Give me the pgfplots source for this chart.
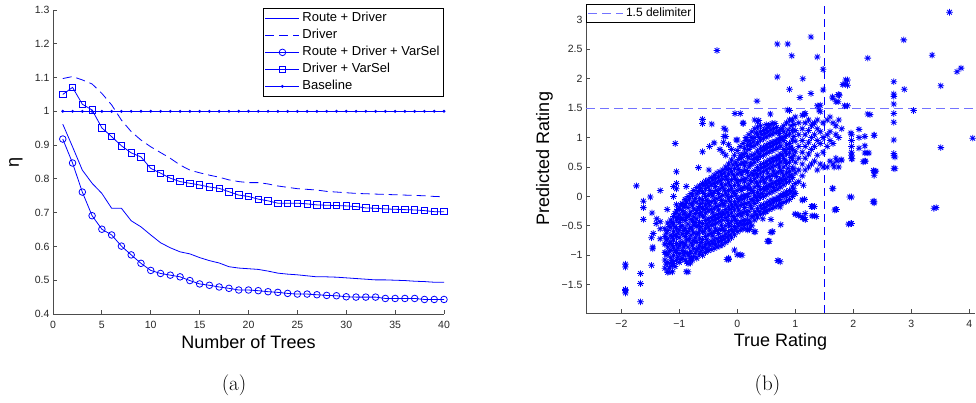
\documentclass[border=0pt]{standalone}
\usepackage{fontspec}
\usepackage{pgfplots}
\pgfplotsset{compat=1.18}
\newfontfamily\arial{Liberation Sans}
\pgfdeclareplotmark{ast8}{%
  \pgfpathmoveto{\pgfqpoint{-\pgfplotmarksize}{0pt}}%
  \pgfpathlineto{\pgfqpoint{\pgfplotmarksize}{0pt}}%
  \pgfpathmoveto{\pgfqpoint{0pt}{-\pgfplotmarksize}}%
  \pgfpathlineto{\pgfqpoint{0pt}{\pgfplotmarksize}}%
  \pgfpathmoveto{\pgfqpoint{-.7071\pgfplotmarksize}{-.7071\pgfplotmarksize}}%
  \pgfpathlineto{\pgfqpoint{.7071\pgfplotmarksize}{.7071\pgfplotmarksize}}%
  \pgfpathmoveto{\pgfqpoint{-.7071\pgfplotmarksize}{.7071\pgfplotmarksize}}%
  \pgfpathlineto{\pgfqpoint{.7071\pgfplotmarksize}{-.7071\pgfplotmarksize}}%
  \pgfusepathqstroke}
\pgfplotsset{
  mystyle/.style={
    scale only axis,
    axis x line=bottom, axis y line=left,
    axis line style={-, draw=black!70, line width=0.9pt},
    tick align=inside, major tick length=4pt,
    tick style={draw=black!70, line width=0.8pt},
    tick label style={font=\arial\fontsize{10.5}{12}\selectfont, text=black!85},
    xticklabel style={yshift=-4pt},
    clip=false,
  },
  myline/.style={blue, line width=0.8pt},
  scat/.style={only marks, mark=ast8, mark size=3.3pt, mark options={blue, line width=0.8pt}, forget plot},
}
\begin{document}
\begin{tikzpicture}[x=1pt,y=1pt]
\useasboundingbox (0,0) rectangle (976,403);
\begin{axis}[mystyle,
  at={(53pt,89pt)}, anchor=south west,
  width=391pt, height=304pt,
  xmin=0, xmax=40, ymin=0.4, ymax=1.3,
  xtick={0,5,10,15,20,25,30,35,40},
  xticklabels={0,5,10,15,20,25,30,35,40},
  ytick={0.4,0.5,0.6,0.7,0.8,0.9,1,1.1,1.2,1.3},
  yticklabels={0.4,0.5,0.6,0.7,0.8,0.9,1,1.1,1.2,1.3},
  xlabel={Number of Trees}, ylabel={η},
  every axis x label/.style={at={(axis description cs:0.5,-0.112)}, anchor=base, font=\arial\fontsize{18}{20}\selectfont},
  every axis y label/.style={at={(axis description cs:-0.095,0.5)}, anchor=center, rotate=90, font=\arial\fontsize{18}{20}\selectfont},
  legend style={at={(axis description cs:1,1.007)}, anchor=north east, draw=black, line width=1pt, fill=white,
    font=\arial\fontsize{13}{15}\selectfont, inner sep=1.5pt, row sep=0pt,
    nodes={inner sep=2.5pt, text height=9.5pt, text depth=2.5pt}},
  legend cell align=left,
  legend image code/.code={\draw[mark repeat=2,mark phase=2,#1] plot coordinates {(0pt,0pt) (17pt,0pt) (34pt,0pt)};},
]
\addplot[myline] coordinates {
(1,0.962)(2,0.895)(3,0.826)(4,0.787)(5,0.757)(6,0.713)(7,0.713)(8,0.676)(9,0.658)(10,0.634)
(11,0.611)(12,0.596)(13,0.584)(14,0.578)(15,0.567)(16,0.558)(17,0.551)(18,0.540)(19,0.536)(20,0.534)
(21,0.532)(22,0.527)(23,0.521)(24,0.518)(25,0.516)(26,0.513)(27,0.510)(28,0.510)(29,0.509)(30,0.507)
(31,0.505)(32,0.503)(33,0.501)(34,0.501)(35,0.500)(36,0.499)(37,0.497)(38,0.496)(39,0.494)(40,0.494)};
\addlegendentry{Route + Driver}
\addplot[myline, dash pattern=on 9pt off 5pt] coordinates {
(1,1.097)(2,1.103)(3,1.093)(4,1.081)(5,1.053)(6,1.019)(7,0.974)(8,0.940)(9,0.915)(10,0.895)
(11,0.878)(12,0.861)(13,0.841)(14,0.826)(15,0.818)(16,0.811)(17,0.805)(18,0.797)(19,0.792)(20,0.789)
(21,0.789)(22,0.785)(23,0.779)(24,0.775)(25,0.771)(26,0.769)(27,0.767)(28,0.763)(29,0.761)(30,0.759)
(31,0.757)(32,0.756)(33,0.755)(34,0.754)(35,0.753)(36,0.752)(37,0.751)(38,0.750)(39,0.748)(40,0.747)};
\addlegendentry{Driver}
\addplot[myline, mark=o, mark size=3.3pt, mark options={solid}] coordinates {
(1,0.918)(2,0.847)(3,0.761)(4,0.691)(5,0.651)(6,0.634)(7,0.601)(8,0.575)(9,0.550)(10,0.529)
(11,0.520)(12,0.515)(13,0.510)(14,0.499)(15,0.489)(16,0.485)(17,0.480)(18,0.476)(19,0.471)(20,0.471)
(21,0.469)(22,0.466)(23,0.464)(24,0.461)(25,0.459)(26,0.459)(27,0.457)(28,0.455)(29,0.454)(30,0.451)
(31,0.450)(32,0.450)(33,0.450)(34,0.446)(35,0.446)(36,0.446)(37,0.446)(38,0.443)(39,0.443)(40,0.443)};
\addlegendentry{Route + Driver + VarSel}
\addplot[myline, mark=square, mark size=3.2pt, mark options={solid}] coordinates {
(1,1.050)(2,1.071)(3,1.021)(4,1.004)(5,0.951)(6,0.925)(7,0.898)(8,0.877)(9,0.865)(10,0.831)
(11,0.817)(12,0.802)(13,0.792)(14,0.787)(15,0.782)(16,0.776)(17,0.772)(18,0.762)(19,0.752)(20,0.748)
(21,0.740)(22,0.735)(23,0.728)(24,0.728)(25,0.728)(26,0.726)(27,0.723)(28,0.722)(29,0.721)(30,0.720)
(31,0.718)(32,0.714)(33,0.713)(34,0.711)(35,0.710)(36,0.709)(37,0.708)(38,0.706)(39,0.703)(40,0.703)};
\addlegendentry{Driver + VarSel}
\addplot[myline, line width=1pt, mark=*, mark size=0.9pt] coordinates {
(1,1)(2,1)(3,1)(4,1)(5,1)(6,1)(7,1)(8,1)(9,1)(10,1)(11,1)(12,1)(13,1)(14,1)(15,1)(16,1)(17,1)(18,1)(19,1)(20,1)
(21,1)(22,1)(23,1)(24,1)(25,1)(26,1)(27,1)(28,1)(29,1)(30,1)(31,1)(32,1)(33,1)(34,1)(35,1)(36,1)(37,1)(38,1)(39,1)(40,1)};
\addlegendentry{Baseline}
\end{axis}

\begin{axis}[mystyle,
  at={(586pt,90pt)}, anchor=south west,
  width=389pt, height=309pt,
  xmin=-2.61, xmax=4.1, ymin=-1.98, ymax=3.27,
  xtick={-2,-1,0,1,2,3,4},
  xticklabels={−2,−1,0,1,2,3,4},
  ytick={-1.5,-1,-0.5,0,0.5,1,1.5,2,2.5,3},
  yticklabels={−1.5,−1,−0.5,0,0.5,1,1.5,2,2.5,3},
  xlabel={True Rating}, ylabel={Predicted Rating},
  every axis x label/.style={at={(axis description cs:0.5,-0.109)}, anchor=base, font=\arial\fontsize{18}{20}\selectfont},
  every axis y label/.style={at={(axis description cs:-0.095,0.5)}, anchor=base, rotate=90, font=\arial\fontsize{18}{20}\selectfont},
  legend style={at={(axis description cs:0,1)}, anchor=north west, draw=black, line width=1pt, fill=white,
    font=\arial\fontsize{12}{14}\selectfont, inner sep=1pt,
    nodes={inner sep=2.5pt, text height=9pt, text depth=2.5pt}},
  legend cell align=left,
  legend image code/.code={\draw[#1] plot coordinates {(0pt,0pt) (35pt,0pt)};},
]
\addplot[blue!55, line width=1pt, dash pattern=on 9pt off 5pt] coordinates {(-2.61,1.5)(4.1,1.5)};
\addlegendentry{1.5 delimiter}
\addplot[blue, line width=0.9pt, dash pattern=on 8pt off 5pt, forget plot] coordinates {(1.5,-1.98)(1.5,3.27)};
\addplot[scat] coordinates {
(-1.25,-1.22)(-1.25,-1.08)(-1.25,-0.95)(-1.25,-0.81)(-1.25,-0.68)(-1.25,-0.55)
(-1.20,-1.29)(-1.20,-1.12)(-1.20,-0.99)(-1.20,-0.86)(-1.20,-0.72)(-1.20,-0.58)(-1.20,-0.45)
(-1.15,-1.18)(-1.15,-1.04)(-1.15,-0.91)(-1.15,-0.77)(-1.15,-0.66)(-1.15,-0.52)(-1.15,-0.40)
(-1.10,-1.14)(-1.10,-1.00)(-1.10,-0.87)(-1.10,-0.74)(-1.10,-0.60)(-1.10,-0.47)(-1.10,-0.34)(-1.10,0.17)(-1.10,0.00)
(-1.05,-1.08)(-1.05,-0.95)(-1.05,-0.80)(-1.05,-0.68)(-1.05,-0.55)(-1.05,-0.40)(-1.05,-0.25)(-1.05,0.42)(-1.05,0.22)(-1.05,0.13)(-1.05,-0.14)
(-1.00,-1.12)(-1.00,-0.97)(-1.00,-0.84)(-1.00,-0.70)(-1.00,-0.57)(-1.00,-0.44)(-1.00,-0.31)(-1.00,-0.20)
(-0.95,-1.05)(-0.95,-0.92)(-0.95,-0.78)(-0.95,-0.64)(-0.95,-0.50)(-0.95,-0.37)(-0.95,-0.24)(-0.95,-0.12)
(-0.90,-1.08)(-0.90,-0.95)(-0.90,-0.81)(-0.90,-0.68)(-0.90,-0.54)(-0.90,-0.41)(-0.90,-0.28)(-0.90,-0.15)(-0.90,-0.05)
(-0.85,-1.14)(-0.85,-1.00)(-0.85,-0.86)(-0.85,-0.73)(-0.85,-0.60)(-0.85,-0.47)(-0.85,-0.33)(-0.85,-0.19)(-0.85,0.00)(-0.85,-1.28)
(-0.80,-1.06)(-0.80,-0.93)(-0.80,-0.79)(-0.80,-0.66)(-0.80,-0.52)(-0.80,-0.39)(-0.80,-0.26)(-0.80,-0.12)(-0.80,0.05)
(-0.75,-1.02)(-0.75,-0.89)(-0.75,-0.75)(-0.75,-0.62)(-0.75,-0.48)(-0.75,-0.35)(-0.75,-0.21)(-0.75,-0.08)(-0.75,0.10)
(-0.70,-1.05)(-0.70,-0.91)(-0.70,-0.78)(-0.70,-0.64)(-0.70,-0.51)(-0.70,-0.38)(-0.70,-0.24)(-0.70,-0.10)(-0.70,0.04)(-0.70,0.15)
(-0.65,-0.98)(-0.65,-0.84)(-0.65,-0.71)(-0.65,-0.57)(-0.65,-0.44)(-0.65,-0.31)(-0.65,-0.17)(-0.65,-0.04)(-0.65,0.10)(-0.65,0.18)
(-0.60,-1.00)(-0.60,-0.87)(-0.60,-0.73)(-0.60,-0.60)(-0.60,-0.46)(-0.60,-0.33)(-0.60,-0.20)(-0.60,-0.06)(-0.60,0.08)(-0.60,0.22)
(-0.55,-0.95)(-0.55,-0.81)(-0.55,-0.68)(-0.55,-0.54)(-0.55,-0.41)(-0.55,-0.28)(-0.55,-0.14)(-0.55,0.00)(-0.55,0.13)(-0.55,0.26)
(-0.50,-0.92)(-0.50,-0.79)(-0.50,-0.65)(-0.50,-0.52)(-0.50,-0.38)(-0.50,-0.25)(-0.50,-0.11)(-0.50,0.02)(-0.50,0.16)(-0.50,0.28)
(-0.45,-0.90)(-0.45,-0.76)(-0.45,-0.63)(-0.45,-0.49)(-0.45,-0.36)(-0.45,-0.22)(-0.45,-0.09)(-0.45,0.05)(-0.45,0.19)(-0.45,0.32)
(-0.40,-0.88)(-0.40,-0.74)(-0.40,-0.60)(-0.40,-0.47)(-0.40,-0.33)(-0.40,-0.20)(-0.40,-0.06)(-0.40,0.08)(-0.40,0.22)(-0.40,0.36)
(-0.35,-0.86)(-0.35,-0.72)(-0.35,-0.58)(-0.35,-0.45)(-0.35,-0.31)(-0.35,-0.17)(-0.35,-0.04)(-0.35,0.10)(-0.35,0.24)(-0.35,0.40)
(-0.30,-0.84)(-0.30,-0.70)(-0.30,-0.56)(-0.30,-0.42)(-0.30,-0.29)(-0.30,-0.15)(-0.30,-0.01)(-0.30,0.13)(-0.30,0.27)(-0.30,0.42)
(-0.25,-0.82)(-0.25,-0.68)(-0.25,-0.54)(-0.25,-0.40)(-0.25,-0.26)(-0.25,-0.12)(-0.25,0.02)(-0.25,0.16)(-0.25,0.30)(-0.25,0.45)(-0.25,0.75)
(-0.20,-0.78)(-0.20,-0.64)(-0.20,-0.50)(-0.20,-0.36)(-0.20,-0.22)(-0.20,-0.08)(-0.20,0.06)(-0.20,0.20)(-0.20,0.34)(-0.20,0.50)(-0.20,0.70)(-0.20,1.02)
(-0.15,-0.74)(-0.15,-0.60)(-0.15,-0.46)(-0.15,-0.32)(-0.15,-0.18)(-0.15,-0.04)(-0.15,0.10)(-0.15,0.24)(-0.15,0.38)(-0.15,0.55)(-0.15,0.88)(-0.15,-1.05)
(-0.10,-0.70)(-0.10,-0.56)(-0.10,-0.42)(-0.10,-0.28)(-0.10,-0.14)(-0.10,0.00)(-0.10,0.14)(-0.10,0.28)(-0.10,0.42)(-0.10,0.62)(-0.10,0.80)
(-0.05,-0.65)(-0.05,-0.51)(-0.05,-0.37)(-0.05,-0.23)(-0.05,-0.09)(-0.05,0.05)(-0.05,0.19)(-0.05,0.33)(-0.05,0.47)(-0.05,0.70)(-0.05,-0.91)
(0.00,-0.60)(0.00,-0.46)(0.00,-0.32)(0.00,-0.18)(0.00,-0.04)(0.00,0.10)(0.00,0.24)(0.00,0.38)(0.00,0.52)(0.00,0.78)(0.00,0.96)(0.00,-0.99)
(0.05,-0.57)(0.05,-0.43)(0.05,-0.29)(0.05,-0.15)(0.05,-0.01)(0.05,0.13)(0.05,0.27)(0.05,0.41)(0.05,0.55)(0.05,0.70)(0.05,0.85)(0.05,1.41)
(0.10,-0.55)(0.10,-0.41)(0.10,-0.27)(0.10,-0.13)(0.10,0.01)(0.10,0.15)(0.10,0.29)(0.10,0.43)(0.10,0.57)(0.10,0.72)(0.10,0.90)(0.10,1.24)
(0.15,-0.55)(0.15,-0.40)(0.15,-0.26)(0.15,-0.12)(0.15,0.02)(0.15,0.16)(0.15,0.30)(0.15,0.44)(0.15,0.58)(0.15,0.74)(0.15,0.95)
(0.20,-0.55)(0.20,-0.40)(0.20,-0.25)(0.20,-0.10)(0.20,0.05)(0.20,0.20)(0.20,0.35)(0.20,0.50)(0.20,0.65)(0.20,0.80)(0.20,0.95)(0.20,1.05)
(0.25,-0.50)(0.25,-0.35)(0.25,-0.20)(0.25,-0.05)(0.25,0.10)(0.25,0.25)(0.25,0.40)(0.25,0.55)(0.25,0.70)(0.25,0.85)(0.25,1.00)(0.25,1.10)
(0.30,-0.40)(0.30,-0.26)(0.30,-0.12)(0.30,0.02)(0.30,0.16)(0.30,0.30)(0.30,0.44)(0.30,0.58)(0.30,0.72)(0.30,0.86)(0.30,1.00)(0.30,1.15)(0.30,1.30)
(0.35,-0.35)(0.35,-0.21)(0.35,-0.07)(0.35,0.07)(0.35,0.21)(0.35,0.35)(0.35,0.49)(0.35,0.63)(0.35,0.77)(0.35,0.91)(0.35,1.05)(0.35,1.18)(0.35,1.27)
(0.40,-0.30)(0.40,-0.16)(0.40,-0.02)(0.40,0.12)(0.40,0.26)(0.40,0.40)(0.40,0.54)(0.40,0.68)(0.40,0.82)(0.40,0.96)(0.40,1.10)(0.40,1.20)
(0.45,-0.28)(0.45,-0.14)(0.45,0.00)(0.45,0.14)(0.45,0.28)(0.45,0.42)(0.45,0.56)(0.45,0.70)(0.45,0.84)(0.45,0.98)(0.45,1.12)
(0.50,-0.25)(0.50,-0.11)(0.50,0.03)(0.50,0.17)(0.50,0.31)(0.50,0.45)(0.50,0.59)(0.50,0.73)(0.50,0.87)(0.50,1.01)(0.50,1.15)(0.50,1.22)
(0.55,-0.76)(0.55,-0.22)(0.55,-0.08)(0.55,0.06)(0.55,0.20)(0.55,0.34)(0.55,0.48)(0.55,0.62)(0.55,0.76)(0.55,0.90)(0.55,1.04)(0.55,1.20)
(0.60,-0.60)(0.60,-0.20)(0.60,-0.06)(0.60,0.08)(0.60,0.22)(0.60,0.36)(0.60,0.50)(0.60,0.64)(0.60,0.78)(0.60,0.92)(0.60,1.06)(0.60,1.24)
(0.65,-0.18)(0.65,-0.04)(0.65,0.10)(0.65,0.24)(0.65,0.38)(0.65,0.52)(0.65,0.66)(0.65,0.80)(0.65,0.94)(0.65,1.08)(0.65,1.24)
(0.70,-1.09)(0.70,-0.15)(0.70,-0.01)(0.70,0.13)(0.70,0.27)(0.70,0.41)(0.70,0.55)(0.70,0.69)(0.70,0.83)(0.70,0.97)(0.70,1.11)
(0.75,-0.48)(0.75,-0.12)(0.75,0.02)(0.75,0.16)(0.75,0.30)(0.75,0.44)(0.75,0.58)(0.75,0.72)(0.75,0.86)(0.75,1.00)(0.75,1.14)
(0.80,-0.10)(0.80,0.05)(0.80,0.20)(0.80,0.35)(0.80,0.50)(0.80,0.65)(0.80,0.80)(0.80,0.95)(0.80,1.10)(0.80,1.20)
(0.85,-0.08)(0.85,0.08)(0.85,0.24)(0.85,0.40)(0.85,0.56)(0.85,0.72)(0.85,0.88)(0.85,1.04)(0.85,1.25)
(0.90,-0.05)(0.90,0.10)(0.90,0.26)(0.90,0.42)(0.90,0.58)(0.90,0.74)(0.90,0.90)(0.90,1.06)(0.90,1.30)(0.90,1.46)
(0.95,0.00)(0.95,0.16)(0.95,0.32)(0.95,0.48)(0.95,0.64)(0.95,0.80)(0.95,0.96)(0.95,1.12)(0.95,1.30)
(1.00,0.05)(1.00,0.22)(1.00,0.40)(1.00,0.58)(1.00,0.76)(1.00,0.94)(1.00,1.12)(1.00,1.35)(1.00,-0.30)
(1.06,0.25)(1.06,0.45)(1.06,0.65)(1.06,0.85)(1.06,1.05)(1.06,1.25)(1.06,-0.32)
(1.12,0.35)(1.12,0.55)(1.12,0.75)(1.12,0.95)(1.12,1.15)(1.12,1.38)(1.12,-0.06)(1.12,-0.36)
(1.17,0.45)(1.17,0.65)(1.17,0.85)(1.17,1.05)(1.17,1.25)(1.17,1.41)(1.17,-0.29)(1.17,-0.39)
(1.23,0.50)(1.23,0.72)(1.23,0.92)(1.23,1.12)(1.23,1.30)
(1.28,0.55)(1.28,0.80)(1.28,1.00)(1.28,1.20)(1.28,-0.17)
(1.33,0.60)(1.33,0.85)(1.33,1.05)(1.33,1.25)(1.33,-0.33)
(1.38,0.45)(1.38,0.70)(1.38,0.95)(1.38,1.15)(1.38,1.30)
(1.43,0.55)(1.43,0.90)(1.43,1.10)(1.43,1.44)(1.43,1.55)
(1.48,0.50)(1.48,0.75)(1.48,1.00)(1.48,1.25)
(1.55,0.50)(1.55,0.85)(1.55,1.05)(1.55,1.30)
(1.60,0.60)(1.60,0.95)(1.60,1.10)(1.60,1.35)
(1.65,0.55)(1.65,0.90)(1.65,1.25)(1.65,1.67)(1.65,0.13)
(1.70,0.65)(1.70,1.05)(1.70,1.20)(1.70,1.61)(1.70,-0.22)
(1.75,0.50)(1.75,1.00)(1.75,1.30)(1.75,1.73)
(1.80,0.62)(1.80,1.15)
(1.97,0.75)(1.97,0.85)(1.97,0.95)(1.97,1.05)(1.97,0.70)(1.97,0.64)(1.97,-0.01)(1.97,-0.46)
(2.10,1.14)(2.10,1.00)(2.10,0.82)
(2.20,1.02)(2.20,0.86)(2.20,0.74)(2.20,0.60)
(2.36,1.04)(2.36,0.43)(2.36,0.36)(2.36,-0.08)(2.36,-0.11)
(-0.35,2.48)(0.69,2.59)(0.87,2.59)(0.94,2.39)(1.27,2.71)(1.38,2.37)(1.48,2.16)(0.69,2.03)(1.13,2.00)
(0.90,1.82)(1.27,1.75)(1.08,1.68)(1.48,1.81)(0.34,1.62)(0.87,1.47)(1.38,1.54)(1.64,1.69)(1.74,1.73)
(1.82,1.90)(1.87,1.98)(1.85,1.54)(1.74,1.61)(2.25,2.35)(2.87,2.66)(3.36,2.40)(3.66,3.13)(3.79,2.12)
(3.86,2.18)(3.51,1.88)(2.88,1.82)(2.70,1.95)(2.70,1.74)(2.70,1.70)(2.70,1.57)(2.70,1.41)(2.70,1.26)
(2.70,0.96)(2.70,0.73)(2.70,0.69)(2.70,0.48)(3.04,1.46)(2.25,1.40)(3.51,0.83)(4.06,0.99)
(2.35,0.44)(2.24,0.74)(2.17,0.59)(1.64,0.14)(1.68,-0.23)(1.94,-0.01)(1.92,-0.47)(2.34,-0.09)(3.39,-0.20)
(0.70,-1.09)(0.52,-0.76)(0.58,-0.61)(-0.18,-1.07)(0.05,-0.99)(0.18,-0.57)(0.29,-0.60)(1.29,-0.33)
(1.13,-0.36)(1.00,-0.30)(1.33,-0.17)(1.13,-0.06)
(-1.93,-1.15)(-1.93,-1.20)(-1.93,-1.60)(-1.93,-1.64)(-1.93,-1.58)(-1.67,-1.31)(-1.67,-1.48)(-1.67,-1.79)
(-1.74,0.18)(-1.50,-0.01)(-1.62,-0.08)(-1.62,-0.19)(-1.33,0.10)(-1.62,-0.39)(-1.47,-0.28)(-1.39,-0.38)
(-1.33,-0.43)(-1.40,-0.46)(-1.33,-0.55)(-1.45,-0.63)(-1.48,-0.70)(-1.46,-0.89)(-1.46,-0.86)(-1.48,-1.17)
(-1.21,-0.22)(-1.33,-0.72)(-0.88,0.17)(-0.88,-1.28)(-0.67,0.49)(-0.49,0.45)(-1.19,-1.28)(-1.12,-1.28)
(-1.12,-1.14)(-0.81,-1.06)(-0.81,-1.13)
(-1.07,0.90)(-0.60,1.31)(-0.60,1.24)(-0.44,1.23)(-0.60,0.76)(-0.48,0.85)(-0.40,0.91)(-0.04,1.41)
(0.10,1.25)(0.37,1.29)(0.57,1.40)(0.54,1.20)(1.16,1.40)(1.30,1.23)(1.41,1.47)(1.76,1.72)(1.86,1.91)
(-0.23,1.16)(-0.23,1.02)(-0.20,1.13)(0.15,1.00)(-0.02,0.96)(-0.24,0.92)(-0.30,0.80)(0.74,-0.18)
(0.61,-0.60)(0.21,-0.56)(0.31,-0.60)(1.16,-0.05)(1.30,-0.17)(1.06,-0.32)(1.36,-0.34)(1.17,-0.39)
(1.71,-0.22)(1.67,0.50)(1.72,0.60)(1.79,0.62)(1.14,0.19)(0.98,0.06)(0.49,-0.26)(0.44,-0.38)(0.58,-0.39)
(-0.15,-1.07)(0.08,-1.00)(0.74,-1.11)(0.54,-0.76)(1.98,0.64)(2.21,0.60)(2.72,0.67)(2.39,0.43)(2.72,0.47)
(3.43,-0.19)(1.96,-0.46)(1.90,1.98)(1.90,1.89)(1.90,1.54)(2.29,1.39)(1.96,1.08)(2.27,0.74)(2.36,1.04)
};
\addplot[scat] coordinates {
(-1.225,-1.15)(-1.225,-0.98)(-1.225,-0.74)(-1.225,-0.62)
(-1.175,-1.22)(-1.175,-0.93)(-1.175,-0.80)(-1.175,-0.51)
(-1.125,-1.09)(-1.125,-0.83)(-1.125,-0.69)(-1.125,-0.44)
(-1.075,-1.19)(-1.075,-0.92)(-1.075,-0.66)(-1.075,-0.52)(-1.075,-0.29)
(-1.025,-1.03)(-1.025,-0.88)(-1.025,-0.62)(-1.025,-0.36)(-1.025,-0.22)
(-0.975,-1.07)(-0.975,-0.79)(-0.975,-0.51)(-0.975,-0.39)(-0.975,-0.15)
(-0.925,-0.99)(-0.925,-0.86)(-0.925,-0.58)(-0.925,-0.30)(-0.925,-0.18)
(-0.875,-1.11)(-0.875,-0.74)(-0.875,-0.63)(-0.875,-0.36)(-0.875,-0.10)
(-0.825,-0.97)(-0.825,-0.72)(-0.825,-0.55)(-0.825,-0.31)(-0.825,-0.04)
(-0.775,-1.08)(-0.775,-0.83)(-0.775,-0.57)(-0.775,-0.42)(-0.775,-0.15)(-0.775,0.02)
(-0.725,-0.96)(-0.725,-0.70)(-0.725,-0.44)(-0.725,-0.29)(-0.725,-0.03)
(-0.675,-0.88)(-0.675,-0.62)(-0.675,-0.49)(-0.675,-0.20)(-0.675,0.08)
(-0.625,-0.93)(-0.625,-0.78)(-0.625,-0.52)(-0.625,-0.27)(-0.625,-0.12)(-0.625,0.14)
(-0.575,-0.86)(-0.575,-0.60)(-0.575,-0.35)(-0.575,-0.22)(-0.575,0.05)(-0.575,0.19)
(-0.525,-0.89)(-0.525,-0.74)(-0.525,-0.47)(-0.525,-0.20)(-0.525,-0.07)(-0.525,0.21)
(-0.475,-0.83)(-0.475,-0.57)(-0.475,-0.43)(-0.475,-0.15)(-0.475,0.10)(-0.475,0.24)
(-0.425,-0.80)(-0.425,-0.67)(-0.425,-0.40)(-0.425,-0.27)(-0.425,0.01)(-0.425,0.28)
(-0.375,-0.81)(-0.375,-0.55)(-0.375,-0.39)(-0.375,-0.11)(-0.375,0.17)(-0.375,0.31)
(-0.325,-0.77)(-0.325,-0.63)(-0.325,-0.36)(-0.325,-0.23)(-0.325,0.05)(-0.325,0.33)
(-0.275,-0.75)(-0.275,-0.49)(-0.275,-0.33)(-0.275,-0.07)(-0.275,0.21)(-0.275,0.37)
(-0.225,-0.72)(-0.225,-0.58)(-0.225,-0.30)(-0.225,-0.15)(-0.225,0.11)(-0.225,0.40)
(-0.175,-0.69)(-0.175,-0.41)(-0.175,-0.27)(-0.175,0.01)(-0.175,0.29)(-0.175,0.46)
(-0.125,-0.66)(-0.125,-0.50)(-0.125,-0.22)(-0.125,-0.09)(-0.125,0.19)(-0.125,0.47)
(-0.075,-0.60)(-0.075,-0.34)(-0.075,-0.18)(-0.075,0.08)(-0.075,0.37)(-0.075,0.54)
(-0.025,-0.55)(-0.025,-0.41)(-0.025,-0.13)(-0.025,0.02)(-0.025,0.29)(-0.025,0.58)
(0.025,-0.50)(0.025,-0.23)(0.025,-0.08)(0.025,0.19)(0.025,0.46)(0.025,0.63)
(0.075,-0.48)(0.075,-0.33)(0.075,-0.05)(0.075,0.10)(0.075,0.37)(0.075,0.66)
(0.125,-0.47)(0.125,-0.19)(0.125,-0.03)(0.125,0.25)(0.125,0.52)(0.125,0.81)
(0.175,-0.46)(0.175,-0.31)(0.175,0.00)(0.175,0.14)(0.175,0.41)(0.175,0.68)(0.175,0.87)
(0.225,-0.45)(0.225,-0.16)(0.225,0.13)(0.225,0.27)(0.225,0.55)(0.225,0.89)
(0.275,-0.33)(0.275,-0.08)(0.275,0.07)(0.275,0.36)(0.275,0.63)(0.275,0.93)
(0.325,-0.31)(0.325,-0.02)(0.325,0.24)(0.325,0.39)(0.325,0.66)(0.325,1.08)
(0.375,-0.26)(0.375,0.01)(0.375,0.17)(0.375,0.45)(0.375,0.72)(0.375,1.00)
(0.425,-0.21)(0.425,0.05)(0.425,0.33)(0.425,0.49)(0.425,0.77)(0.425,1.05)
(0.475,-0.19)(0.475,0.11)(0.475,0.24)(0.475,0.51)(0.475,0.80)(0.475,1.07)
(0.525,-0.15)(0.525,0.13)(0.525,0.40)(0.525,0.54)(0.525,0.83)(0.525,1.10)
(0.575,-0.13)(0.575,0.17)(0.575,0.28)(0.575,0.57)(0.575,0.85)(0.575,1.13)
(0.625,-0.10)(0.625,0.15)(0.625,0.43)(0.625,0.60)(0.625,0.88)(0.625,1.15)
(0.675,-0.07)(0.675,0.20)(0.675,0.34)(0.675,0.62)(0.675,0.90)(0.675,1.17)
(0.725,-0.05)(0.725,0.22)(0.725,0.50)(0.725,0.64)(0.725,0.93)(0.725,1.07)
(0.775,0.00)(0.775,0.26)(0.775,0.40)(0.775,0.70)(0.775,0.98)(0.775,1.16)
(0.825,0.01)(0.825,0.29)(0.825,0.60)(0.825,0.76)(0.825,1.02)
(0.875,0.03)(0.875,0.33)(0.875,0.48)(0.875,0.81)(0.875,1.13)
(0.925,0.07)(0.925,0.36)(0.925,0.66)(0.925,0.84)(0.925,1.20)
(0.975,0.13)(0.975,0.47)(0.975,0.70)(0.975,1.02)(0.975,1.22)
};
\end{axis}
\node[font=\fontsize{21}{24}\selectfont, anchor=base] at (234,12) {(a)};
\node[font=\fontsize{21}{24}\selectfont, anchor=base] at (767.5,12) {(b)};
\end{tikzpicture}
\end{document}
